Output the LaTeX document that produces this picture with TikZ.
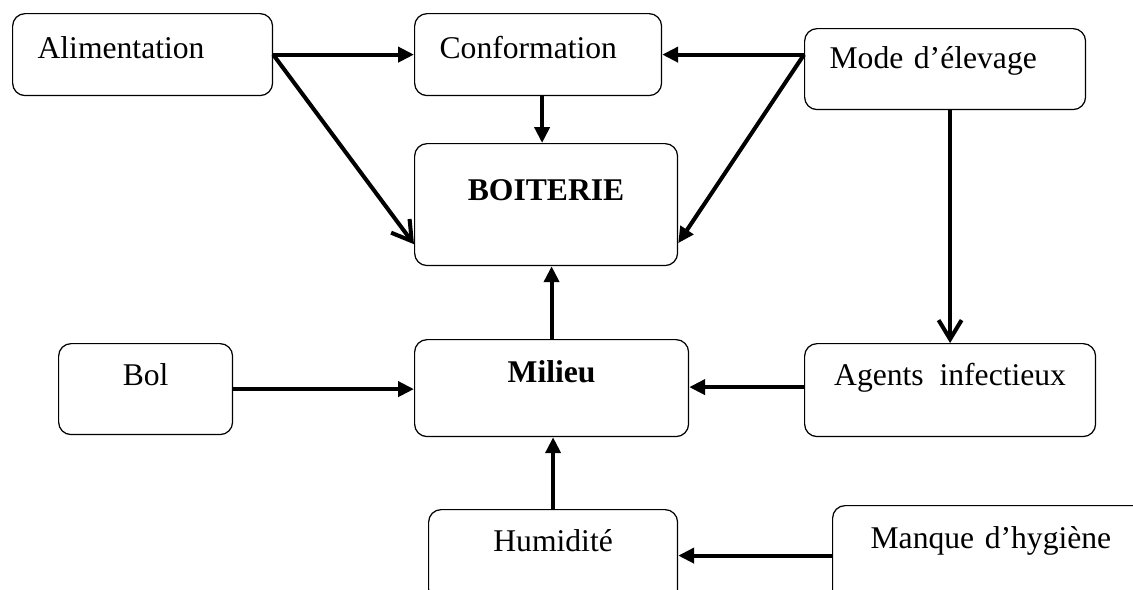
\documentclass[tikz,border=0pt]{standalone}
\usepackage{fontspec}
\setmainfont{Liberation Serif}
\usetikzlibrary{positioning, arrows.meta, calc}

\begin{document}
\begin{tikzpicture}[x=0.02cm, y=-0.02cm,
  cause/.style={draw, rounded corners=0.25cm, line width=0.7pt, inner ysep=0pt,
                inner xsep=0pt, anchor=north west,
                font=\fontsize{18}{20}\selectfont},
  causeleft/.style={cause, align=left, inner xsep=0.5cm, text width=#1},
  link/.style={line width=2.3pt, -{Triangle[length=0.32cm, width=0.3cm]}},
  barb/.style={line width=2.3pt, -{Straight Barb[length=0.38cm, width=0.46cm]}},
]
  \useasboundingbox (0,0) rectangle (1133,589);
  \clip (0,0) rectangle (1133,589);

  \node[causeleft=4.2cm, text height=0.9cm, text depth=0.74cm] (alim) at (12,13) {Alimentation};
  \node[causeleft=3.94cm, text height=0.9cm, text depth=0.74cm] (conf) at (414,13) {Conformation};
  \node[causeleft=4.62cm, text height=0.80cm, text depth=0.82cm] (mode) at (804,28) {Mode d’élevage};
  \node[cause, minimum width=5.26cm, text height=1.14cm, text depth=1.30cm, font=\fontsize{18}{20}\selectfont\bfseries] (boit) at (414,143) {BOITERIE};
  \node[cause, minimum width=3.48cm, text height=0.84cm, text depth=0.98cm] (bol) at (58,343) {Bol};
  \node[cause, minimum width=5.48cm, text height=0.86cm, text depth=1.08cm, font=\fontsize{18}{20}\selectfont\bfseries] (mil) at (414,339) {Milieu};
  \node[cause, minimum width=5.82cm, text height=0.84cm, text depth=1.02cm] (agents) at (804,343) {Agents~ infectieux};
  \node[cause, minimum width=4.98cm, text height=0.84cm, text depth=1.00cm] (hum) at (428,509) {Humidité};
  \node[causeleft=5.44cm, inner xsep=0.76cm, text height=0.86cm, text depth=1.14cm] (hyg) at (832,505) {Manque d’hygiène};

  % top row
  \draw[link] (alim.east) -- (conf.west);
  \draw[barb] (alim.east) -- ([yshift=0.44cm]boit.south west);
  \draw[link] (mode.west |- conf.east) -- (conf.east);
  \draw[link] (mode.west |- conf.east) -- ([yshift=0.46cm]boit.south east);
  \draw[link] ([xshift=0.08cm]conf.south) -- ([xshift=0.08cm]conf.south |- boit.north);
  \draw[barb] (agents.north |- mode.south) -- (agents.north);

  % middle row
  \draw[link] (mil.north) -- (mil.north |- boit.south);
  \draw[link] (bol.east) -- (bol.east -| mil.west);
  \draw[link] ([yshift=0.06cm]agents.west) -- ([yshift=0.06cm]agents.west -| mil.east);

  % bottom row
  \draw[link] (hum.north) -- (hum.north |- mil.south);
  \draw[link] (hyg.west) -- (hyg.west -| hum.east);
\end{tikzpicture}
\end{document}
